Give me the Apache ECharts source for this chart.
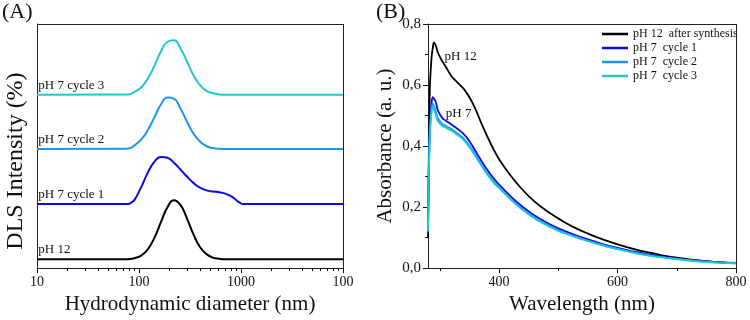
<!DOCTYPE html>
<html>
<head>
<meta charset="utf-8">
<script src="https://cdn.jsdelivr.net/npm/echarts@6/dist/echarts.min.js"></script>
<style>
  html, body { margin: 0; padding: 0; background: #fff; }
  #chart { width: 750px; height: 320px; }
</style>
</head>
<body>
<div id="chart"></div>
<script>
// ---- (A) DLS data: diameter (nm) vs intensity (%) ----
const dlsSizes = [10, 78, 91, 106, 122, 142, 164, 190, 220, 255, 295, 342, 396, 459, 531, 615, 700, 10000];
const dlsSizesCycle1 = [10, 78, 85, 91, 106, 122, 142, 164, 190, 220, 255, 295, 342, 396, 459, 531, 615, 712, 825, 955, 1060, 10000];
const dlsPH12 = [0, 0, 0.3, 1.0, 2.5, 5.5, 9.4, 13.2, 15.0, 13.8, 10.4, 6.3, 3.1, 1.3, 0.4, 0.1, 0, 0];
const dlsCycle1 = [0, 0, 0.5, 1.2, 4.5, 8.0, 10.8, 12.0, 11.8, 10.5, 8.8, 7.0, 5.4, 4.2, 3.5, 3.2, 3.0, 2.6, 1.8, 0.5, 0, 0];
const dlsCycle2 = [0, 0.1, 1.0, 2.5, 4.8, 8.1, 11.3, 13.1, 12.8, 10.3, 7.0, 3.9, 1.9, 0.7, 0.25, 0.05, 0, 0];
const dlsCycle3 = [0, 0.1, 0.8, 2.0, 4.1, 7.5, 11.0, 13.5, 13.9, 11.8, 8.5, 5.0, 2.5, 1.0, 0.4, 0.1, 0, 0];
const dlsOffsets = [2.25, 16.25, 30.25, 44];
const dlsLabels = ['pH 12', 'pH 7 cycle 1', 'pH 7 cycle 2', 'pH 7 cycle 3'];
const dlsTickLabels = ['10', '100', '1000', '100'];
const dlsMajorTicks = [10, 100, 1000, 10000];
const dlsMinorTicks = [20, 30, 40, 50, 60, 70, 80, 90, 200, 300, 400, 500, 600, 700, 800, 900, 2000, 3000, 4000, 5000, 6000, 7000, 8000, 9000];

// ---- (B) UV-Vis data: wavelength (nm) vs absorbance ----
const wavelengths = [280, 283, 286, 288, 290, 293, 297, 305, 310, 320, 330, 340, 350, 360, 370, 380, 390, 400, 420, 440, 460, 480, 500, 525, 550, 575, 600, 625, 650, 675, 700, 725, 750, 775, 800];
const absPH12 = [0.10, 0.58, 0.69, 0.72, 0.74, 0.73, 0.705, 0.675, 0.66, 0.628, 0.608, 0.588, 0.56, 0.522, 0.475, 0.432, 0.392, 0.357, 0.302, 0.256, 0.218, 0.188, 0.163, 0.135, 0.113, 0.094, 0.078, 0.064, 0.052, 0.042, 0.034, 0.028, 0.023, 0.019, 0.016];
const absCycle1 = [0.12, 0.47, 0.54, 0.56, 0.555, 0.545, 0.515, 0.49, 0.483, 0.47, 0.456, 0.44, 0.416, 0.384, 0.352, 0.322, 0.296, 0.274, 0.234, 0.20, 0.172, 0.149, 0.13, 0.111, 0.094, 0.079, 0.066, 0.055, 0.046, 0.038, 0.031, 0.026, 0.022, 0.019, 0.017];
const absCycle2 = [0.12, 0.44, 0.52, 0.54, 0.53, 0.515, 0.49, 0.472, 0.466, 0.455, 0.441, 0.425, 0.401, 0.372, 0.341, 0.312, 0.287, 0.266, 0.227, 0.193, 0.166, 0.144, 0.125, 0.106, 0.09, 0.076, 0.063, 0.052, 0.043, 0.036, 0.03, 0.025, 0.021, 0.018, 0.016];
const absCycle3 = [0.12, 0.43, 0.51, 0.53, 0.52, 0.505, 0.48, 0.465, 0.46, 0.45, 0.436, 0.42, 0.396, 0.367, 0.336, 0.307, 0.282, 0.262, 0.224, 0.19, 0.163, 0.141, 0.122, 0.104, 0.088, 0.074, 0.062, 0.051, 0.042, 0.035, 0.029, 0.024, 0.02, 0.017, 0.015];
const uvNames = ['pH 12  after synthesis', 'pH 7  cycle 1', 'pH 7  cycle 2', 'pH 7  cycle 3'];
const wlLabelTicks = [400, 600, 800];
const wlMinorTicks = [300, 500, 700];

const colors = ['#000000', '#0a0af0', '#1e96f0', '#1ec8cc'];
const FONT = "'Liberation Serif', 'DejaVu Serif', serif";
const AXIS = '#222';

const chart = echarts.init(document.getElementById('chart'));

// top and right border of a panel, drawn as mark lines at the axis maxima
const frameLines = (xMax, yMax) => ({
  silent: true,
  symbol: 'none',
  label: { show: false },
  lineStyle: { color: AXIS, type: 'solid', width: 1 },
  data: [{ xAxis: xMax }, { yAxis: yMax }]
});

const dlsSets = [
  [dlsSizes, dlsPH12],
  [dlsSizesCycle1, dlsCycle1],
  [dlsSizes, dlsCycle2],
  [dlsSizes, dlsCycle3]
];

const dlsSeries = dlsSets.map(([xs, ys], i) => ({
  name: 'DLS ' + dlsLabels[i],
  type: 'line',
  xAxisIndex: 0,
  yAxisIndex: 0,
  data: xs.map((x, j) => [x, ys[j] + dlsOffsets[i]]),
  symbol: 'none',
  smooth: 0.5,
  lineStyle: { color: colors[i], width: 2 },
  itemStyle: { color: colors[i] },
  markPoint: {
    symbol: 'circle',
    symbolSize: 0,
    silent: true,
    label: {
      show: true, position: 'right', distance: 0, formatter: '{b}',
      color: '#111', fontFamily: FONT, fontSize: 13
    },
    data: [{ name: dlsLabels[i], coord: [10.3, dlsOffsets[i] + 2.4] }]
  }
}));
dlsSeries[0].markLine = frameLines(10000, 62);

const uvSets = [absPH12, absCycle1, absCycle2, absCycle3];
const uvSeries = uvSets.map((ys, i) => ({
  name: uvNames[i],
  type: 'line',
  xAxisIndex: 1,
  yAxisIndex: 1,
  data: wavelengths.map((w, j) => [w, ys[j]]),
  symbol: 'none',
  smooth: 0.4,
  lineStyle: { color: colors[i], width: 1.8 },
  itemStyle: { color: colors[i] }
}));
uvSeries[0].markLine = frameLines(800, 0.8);

const uvText = { label: { show: true, position: 'right', distance: 0, formatter: '{b}', color: '#111', fontFamily: FONT, fontSize: 13 } };
uvSeries[0].markPoint = Object.assign({ symbol: 'circle', symbolSize: 0, silent: true, data: [{ name: 'pH 12', coord: [308, 0.694] }] }, uvText);
uvSeries[1].markPoint = Object.assign({ symbol: 'circle', symbolSize: 0, silent: true, data: [{ name: 'pH 7', coord: [310, 0.506] }] }, uvText);

const tickLine = { color: '#111', width: 1 };
const nameStyle = { fontFamily: FONT, fontSize: 21, color: '#111' };

const option = {
  animation: false,
  backgroundColor: '#fff',
  textStyle: { fontFamily: FONT },
  graphic: [
    { type: 'text', left: 2, top: 1, style: { text: '(A)', font: '22px ' + FONT, fill: '#111' } },
    { type: 'text', left: 376, top: 1, style: { text: '(B)', font: '22px ' + FONT, fill: '#111' } }
  ],
  legend: {
    data: uvNames,
    orient: 'vertical',
    left: 602,
    top: 27,
    padding: 0,
    icon: 'rect',
    itemWidth: 26,
    itemHeight: 2.5,
    itemGap: 0,
    textStyle: { fontFamily: FONT, fontSize: 12, color: '#111', lineHeight: 14 }
  },
  grid: [
    { left: 37, right: 407, top: 24, bottom: 48 },
    { left: 428, right: 14, top: 24, bottom: 48 }
  ],
  xAxis: [
    {
      gridIndex: 0, type: 'log', logBase: 10, min: 10, max: 10000, position: 'bottom',
      name: 'Hydrodynamic diameter (nm)', nameLocation: 'middle', nameGap: 22, nameTextStyle: nameStyle,
      axisLine: { show: true, lineStyle: { color: AXIS } },
      axisTick: { show: true, inside: false, length: 5, lineStyle: tickLine },
      axisLabel: {
        margin: 7, fontFamily: FONT, fontSize: 14, color: '#111',
        formatter: (v) => dlsTickLabels[dlsMajorTicks.indexOf(Math.round(v))]
      },
      splitLine: { show: false }
    },
    {
      gridIndex: 1, type: 'value', min: 280, max: 800, position: 'bottom',
      name: 'Wavelength (nm)', nameLocation: 'middle', nameGap: 22, nameTextStyle: nameStyle,
      axisLine: { show: true, lineStyle: { color: AXIS } },
      axisTick: { show: true, inside: false, length: 5, customValues: wlLabelTicks, lineStyle: tickLine },
      axisLabel: { margin: 7, fontFamily: FONT, fontSize: 14, color: '#111', customValues: wlLabelTicks },
      splitLine: { show: false }
    },
    {
      gridIndex: 1, type: 'value', min: 280, max: 800, position: 'bottom',
      axisLine: { show: false },
      axisTick: { show: true, inside: false, length: 3, customValues: wlMinorTicks, lineStyle: tickLine },
      axisLabel: { show: false },
      splitLine: { show: false }
    },
    {
      gridIndex: 0, type: 'log', logBase: 10, min: 10, max: 10000, position: 'bottom',
      axisLine: { show: false },
      axisTick: { show: true, inside: false, length: 3, customValues: dlsMinorTicks, lineStyle: tickLine },
      axisLabel: { show: false },
      splitLine: { show: false }
    }
  ],
  yAxis: [
    {
      gridIndex: 0, type: 'value', min: 0, max: 62,
      name: 'DLS Intensity (%)', nameLocation: 'middle', nameGap: 9,
      nameTextStyle: { fontFamily: FONT, fontSize: 24, color: '#111', padding: [0, 30, 0, 0] },
      axisLine: { show: true, lineStyle: { color: AXIS } },
      axisTick: { show: false },
      axisLabel: { show: false },
      splitLine: { show: false }
    },
    {
      gridIndex: 1, type: 'value', min: 0, max: 0.8, interval: 0.2,
      name: 'Absorbance (a. u.)', nameLocation: 'middle', nameGap: 32, nameTextStyle: nameStyle,
      axisLine: { show: true, lineStyle: { color: AXIS } },
      axisTick: { show: true, inside: false, length: 5, lineStyle: tickLine },
      minorTick: { show: true, splitNumber: 2, length: 3, lineStyle: tickLine },
      axisLabel: {
        margin: 7, fontFamily: FONT, fontSize: 15, color: '#111',
        formatter: (v) => v.toFixed(1).replace('.', ',')
      },
      splitLine: { show: false }
    }
  ],
  series: dlsSeries.concat(uvSeries)
};

chart.setOption(option);
</script>
</body>
</html>
